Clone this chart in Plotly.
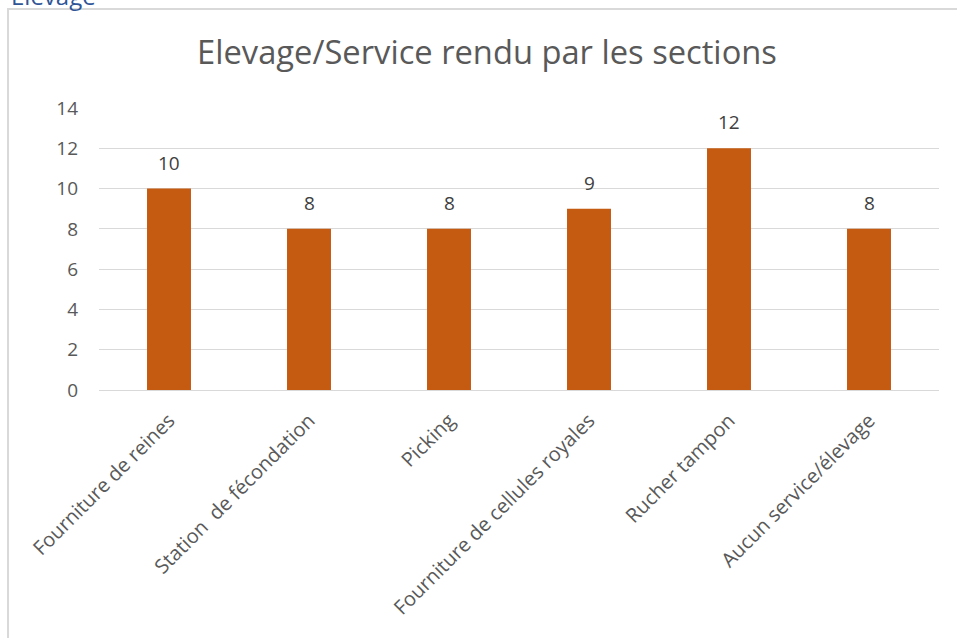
# Bar chart: Elevage / Service rendu par les sections

import plotly.graph_objects as go

categories = [
    "Fourniture de reines",
    "Station  de fécondation",
    "Picking",
    "Fourniture de cellules royales",
    "Rucher tampon",
    "Aucun service/élevage",
]
values = [10, 8, 8, 9, 12, 8]
y_ticks = [0, 2, 4, 6, 8, 10, 12, 14]

font_name = "Open Sans"
grey_text = "#595959"

fig = go.Figure(
    go.Bar(
        x=categories,
        y=values,
        marker=dict(color="#C55A11", line=dict(width=0)),
        width=0.314,
        hoverinfo="x+y",
    )
)

# value labels above the bars
for c, v in zip(categories, values):
    fig.add_annotation(
        x=c, y=v, text=str(v), showarrow=False,
        yanchor="bottom", yshift=11,
        font=dict(family=font_name, size=19, color="#404040"),
    )

# "Elevage" heading cut off at the top of the page
fig.add_annotation(
    xref="paper", yref="paper", x=-0.107, y=1.333,
    xanchor="left", yanchor="bottom", showarrow=False,
    text="Elevage", font=dict(family=font_name, size=24, color="#2F5597"),
)

# light frame around the chart
fig.add_shape(
    type="rect", xref="paper", yref="paper",
    x0=-0.1083, x1=1.2, y0=-1.0, y1=1.351,
    line=dict(color="#D9D9D9", width=2), layer="below",
)

fig.update_layout(
    width=957, height=638,
    margin=dict(l=99, r=18, t=108, b=248),
    paper_bgcolor="white", plot_bgcolor="white",
    title=dict(
        text="Elevage/Service rendu par les sections",
        x=487 / 957, xref="container", xanchor="center",
        y=1 - 53 / 638, yanchor="middle",
        font=dict(family=font_name, size=32.7, color=grey_text),
    ),
    showlegend=False,
    font=dict(family=font_name, color=grey_text),
)
fig.update_xaxes(
    tickangle=-45, tickfont=dict(size=20, color=grey_text),
    showgrid=False, showline=False, ticks="", ticklabelstandoff=14,
)
fig.update_yaxes(
    range=[0, 14], tickvals=y_ticks,
    tickfont=dict(size=19, color=grey_text),
    showgrid=True, gridcolor="#D9D9D9", gridwidth=1,
    zeroline=True, zerolinecolor="#D9D9D9", zerolinewidth=1,
    showline=False, ticks="", ticklabelstandoff=20,
)

# remove the default page margin so the figure sits at the window's corner
fig.write_html(
    "out.html",
    config={"displayModeBar": False},
    post_script="document.body.style.margin='0';",
)
